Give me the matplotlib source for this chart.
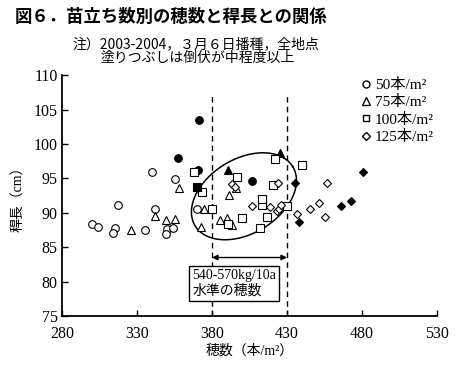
import numpy as np
import matplotlib
matplotlib.use("Agg")
import matplotlib.pyplot as plt
from matplotlib.lines import Line2D

plt.rcParams['font.family'] = ['Liberation Serif', 'Noto Sans CJK JP']
jp = ['Noto Sans CJK JP', 'DejaVu Sans']

# 50本/m2 (open = lodging small, filled = lodging moderate or more)
c50_x = [300, 304, 315, 314, 317, 335, 340, 342, 350, 354, 349, 355, 370]
c50_y = [88.4, 88.0, 87.8, 87.1, 91.2, 87.5, 96.0, 90.5, 87.6, 87.8, 86.9, 94.9, 90.5]
c50f_x = [357, 371.5, 370.5, 406.5]
c50f_y = [97.9, 103.5, 96.2, 94.6]
# 75本/m2
t75_x = [326, 342, 349, 355, 358, 372.5, 374.5, 385, 390, 393, 391.5, 396]
t75_y = [87.5, 89.5, 88.9, 89.1, 93.6, 88.0, 90.6, 89.0, 89.2, 88.2, 92.6, 93.6]
t75f_x = [390.7, 425.3]
t75f_y = [96.2, 98.7]
# 100本/m2
s100_x = [368, 373, 380, 390.5, 396.5, 400, 412, 413, 413.5, 416.5, 420.5, 422, 430, 440]
s100_y = [95.9, 93.0, 90.5, 88.4, 95.2, 89.3, 87.8, 91.2, 92.0, 89.4, 94.1, 97.8, 91.0, 97.0]
s100f_x = [369.8]
s100f_y = [93.8]
# 125本/m2
d125_x = [393, 395.5, 406.5, 418.5, 423.5, 424, 424.5, 426, 436.5, 445, 451, 455, 456.5]
d125_y = [94.2, 93.7, 91.0, 90.8, 90.2, 94.3, 90.6, 91.1, 89.8, 90.6, 91.4, 89.4, 94.4]
d125f_x = [435, 438, 466, 472.5, 480.5]
d125f_y = [94.4, 88.7, 91.0, 91.7, 96.0]

xticks = [280, 330, 380, 430, 480, 530]
yticks = [75, 80, 85, 90, 95, 100, 105, 110]
range_lo, range_hi = 380, 430

fig = plt.figure(figsize=(4.59, 3.66), dpi=100)
ax = fig.add_axes([0.1351, 0.1366, 0.817, 0.658])

mk = dict(linestyle='none', markeredgecolor='black', markeredgewidth=0.8, zorder=3)
ax.plot(c50_x, c50_y, marker='o', ms=5.5, mfc='white', **mk)
ax.plot(c50f_x, c50f_y, marker='o', ms=5.5, mfc='black', **mk)
ax.plot(t75_x, t75_y, marker='^', ms=6, mfc='white', **mk)
ax.plot(t75f_x, t75f_y, marker='^', ms=6, mfc='black', **mk)
ax.plot(s100_x, s100_y, marker='s', ms=5.5, mfc='white', **mk)
ax.plot(s100f_x, s100f_y, marker='s', ms=5.5, mfc='black', **mk)
ax.plot(d125_x, d125_y, marker='D', ms=4, mfc='white', **mk)
ax.plot(d125f_x, d125f_y, marker='D', ms=4, mfc='black', **mk)

# dashed range lines
ax.plot([range_lo, range_lo], [75, 107.1], 'k--', lw=1, dashes=(4, 3), zorder=2)
ax.plot([range_hi, range_hi], [75, 107.1], 'k--', lw=1, dashes=(4, 3), zorder=2)
ax.annotate('', xy=(range_lo, 83.5), xytext=(range_hi, 83.5),
            arrowprops=dict(arrowstyle='<|-|>', color='black', lw=1,
                            mutation_scale=8, shrinkA=0, shrinkB=0))
ax.text(367, 79.7, '540-570kg/10a\n水準の穂数', fontsize=10, va='center', ha='left',
        linespacing=1.2, zorder=5,
        bbox=dict(boxstyle='square,pad=0.22', fc='white', ec='black', lw=1))

# tilted ellipse (pixel-based shape)
t = np.linspace(0, 2 * np.pi, 200)
a, b, th = 57.1, 37.3, np.deg2rad(31.2)
ex = 401.3 + (a * np.cos(t) * np.cos(th) - b * np.sin(t) * np.sin(th)) / 1.5
ey = 92.4 + (a * np.cos(t) * np.sin(th) + b * np.sin(t) * np.cos(th)) / 6.886
ax.plot(ex, ey, color='black', lw=1.1, zorder=2)

ax.set_xlim(280, 530)
ax.set_ylim(75, 110)
ax.set_xticks(xticks)
ax.set_yticks(yticks)
ax.tick_params(direction='in', length=4, width=1, labelsize=11.5)
ax.tick_params(axis='x', pad=7)
ax.tick_params(axis='y', pad=3)
ax.spines['top'].set_visible(False)
ax.spines['right'].set_visible(False)
ax.spines['left'].set_linewidth(1.3)
ax.spines['bottom'].set_linewidth(1.3)

ax.set_xlabel('穂数（本/m²）', fontsize=10, labelpad=2)
ax.set_ylabel('稈長（cm）', fontsize=10, labelpad=6)

handles = [
    Line2D([], [], marker='o', ms=5, mfc='white', mec='black', ls='none'),
    Line2D([], [], marker='^', ms=5.5, mfc='white', mec='black', ls='none'),
    Line2D([], [], marker='s', ms=5, mfc='white', mec='black', ls='none'),
    Line2D([], [], marker='D', ms=4, mfc='white', mec='black', ls='none'),
]
labels = ['50本/m²', '75本/m²', '100本/m²', '125本/m²']
ax.legend(handles, labels, loc='upper left', bbox_to_anchor=(0.775, 1.02),
          frameon=False, fontsize=11, handlelength=0.8, handletextpad=0.15,
          labelspacing=0.22, borderpad=0)

fig.text(0.033, 0.953, '図６．苗立ち数別の穂数と稈長との関係', fontsize=12.5,
         fontweight='bold', family=jp, va='center')
fig.text(0.157, 0.879, '注）2003-2004，３月６日播種，全地点', fontsize=10, family=jp,
         va='center')
fig.text(0.218, 0.842, '塗りつぶしは倒伏が中程度以上', fontsize=10, family=jp,
         va='center')

fig.savefig('out.png', dpi=100)
